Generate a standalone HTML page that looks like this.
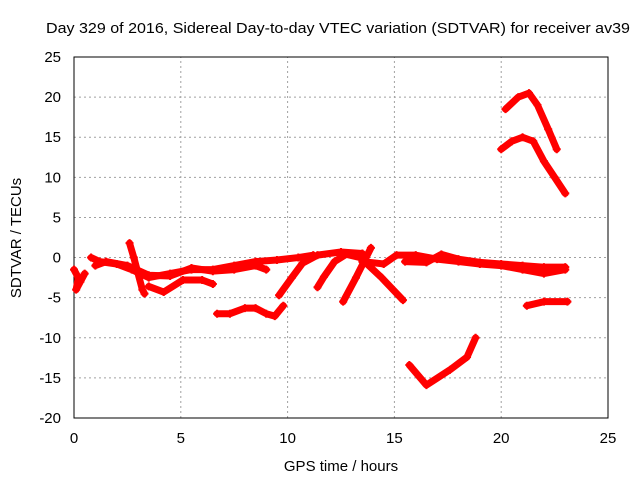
<!DOCTYPE html>
<html><head><meta charset="utf-8"><style>
body{margin:0;background:#fff}
svg text{font-family:"Liberation Sans",sans-serif;font-size:15px;fill:#000}
</style></head><body>
<svg id="c" width="640" height="480"></svg>
<script>
const xTicks=[0,5,10,15,20,25];
const yTicks=[25,20,15,10,5,0,-5,-10,-15,-20];
const trackLeft=[[0,-1.5],[0.2,-2.5],[0.1,-4],[0.3,-3],[0.5,-2]];
const trackA=[[0.8,0],[1.2,-0.5],[2,-0.8],[2.7,-1.5],[3.5,-2.5],[4.5,-2],[5.5,-1.5],[6.5,-1.5],[7.5,-1],[8.5,-0.5],[9.5,-0.3],[10.5,0],[11.2,0.3]];
const trackB=[[2.6,1.8],[2.8,0],[3.0,-2],[3.2,-4],[3.3,-4.5]];
const trackC=[[1,-1],[1.5,-0.5],[2.5,-1],[3.5,-2.2],[4.5,-2.3],[5.5,-1.3],[6.5,-1.7],[7.5,-1.5],[8.5,-1],[9,-1.5]];
const trackD=[[3.5,-3.6],[4.2,-4.3],[5.1,-2.8],[6,-2.8],[6.5,-3.3]];
const trackE=[[6.7,-7],[7.3,-7],[8,-6.3],[8.5,-6.3],[9,-7],[9.4,-7.3],[9.8,-6]];
const trackF=[[9.6,-4.7],[10.2,-2.5],[10.7,-0.7],[11.4,0.3],[12.5,0.7],[13.5,0.5]];
const trackG=[[11.4,-3.7],[11.7,-2.4],[12.2,-0.5],[12.8,0.5]];
const trackH=[[12.6,-5.5],[13.2,-2.5],[13.9,1.2]];
const trackI=[[12.6,0.5],[13.4,0],[14.4,-2.5],[15.4,-5.3]];
const trackJ=[[13.5,-0.5],[14.5,-0.8],[15.1,0.3],[16,0.3],[17,-0.2],[18,-0.5],[19,-0.8],[20,-1],[21,-1.5],[22,-2],[23,-1.5]];
const trackJ2=[[15.5,-0.5],[16.5,-0.6],[17.2,0.4],[18,-0.2],[19,-0.6],[20,-0.8],[21,-1],[22,-1.2],[23,-1.2]];
const trackK=[[15.7,-13.4],[16.5,-15.9],[17.6,-14],[18.4,-12.4],[18.8,-10]];
const trackL=[[21.2,-6],[22,-5.5],[23.1,-5.5]];
const trackN=[[20.2,18.5],[20.8,20],[21.3,20.5],[21.7,19],[22.2,16],[22.6,13.5]];
const trackO=[[20,13.5],[20.5,14.5],[21,15],[21.5,14.5],[22,12],[22.5,10],[23,8]];
const tracks=[trackLeft,trackA,trackB,trackC,trackD,trackE,trackF,trackG,trackH,trackI,trackJ,trackJ2,trackK,trackL,trackN,trackO];

const X0=74,X1=608,Y0=418,Y1=57;
const sx=h=>X0+(h-0)/25*(X1-X0);
const sy=v=>Y0-(v+20)/45*(Y0-Y1);
const svg=document.getElementById('c');
const NS='http://www.w3.org/2000/svg';
function mk(t,a){const e=document.createElementNS(NS,t);for(const k in a)e.setAttribute(k,a[k]);svg.appendChild(e);return e;}

xTicks.forEach(t=>{
  if(t>0&&t<25){const g=mk('line',{x1:sx(t),x2:sx(t),y1:Y0,y2:Y1,stroke:'#a0a0a0','stroke-dasharray':'2,3'});
  
  }
  const tx=mk('text',{x:sx(t),y:443,'text-anchor':'middle'});tx.textContent=t;
  
  
});
yTicks.forEach(t=>{
  if(t>-20&&t<25){const g=mk('line',{x1:X0,x2:X1,y1:sy(t),y2:sy(t),stroke:'#a0a0a0','stroke-dasharray':'2,3'});
  
  }
  const tx=mk('text',{x:61,y:sy(t)+5,'text-anchor':'end'});tx.textContent=t;
  
  
});
const fr=mk('rect',{x:X0,y:Y1,width:X1-X0,height:Y0-Y1,fill:'none',stroke:'#000','stroke-width':1});



tracks.forEach(tr=>{
  const p=mk('polyline',{points:tr.map(d=>sx(d[0])+','+sy(d[1])).join(' '),fill:'none',stroke:'#ff0000','stroke-width':7,'stroke-linejoin':'round','stroke-linecap':'round'});
  
  
  tr.forEach(d=>{
    const m=mk('path',{d:`M${sx(d[0])-4},${sy(d[1])}h8M${sx(d[0])},${sy(d[1])-4}v8`,stroke:'#ff0000','stroke-width':2});
    
    
  });
});

const t1=mk('text',{x:338,y:33,'text-anchor':'middle',textLength:584,lengthAdjust:'spacingAndGlyphs'});t1.textContent='Day 329 of 2016, Sidereal Day-to-day VTEC variation (SDTVAR) for receiver av39';


const t2=mk('text',{x:341,y:471,'text-anchor':'middle'});t2.textContent='GPS time / hours';


const t3=mk('text',{x:0,y:0,'text-anchor':'middle',transform:'translate(21,238) rotate(-90)'});t3.textContent='SDTVAR / TECUs';


</script>
</body></html>
